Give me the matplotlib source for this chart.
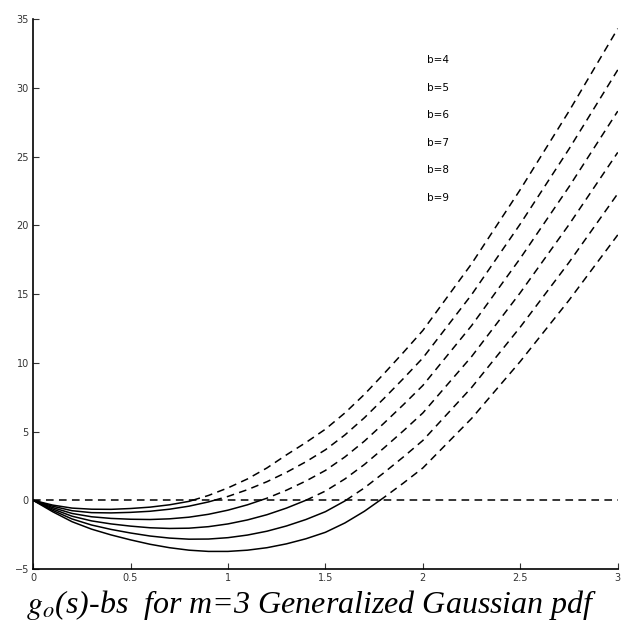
import numpy as np
import matplotlib
matplotlib.use("Agg")
import matplotlib.pyplot as plt

# s values and g_o(s)-bs curves
s = [0, 0.1, 0.2, 0.3, 0.4, 0.5, 0.6, 0.7, 0.8, 0.9, 1.0, 1.1, 1.2, 1.3, 1.4,
     1.5, 1.6, 1.7, 1.8, 1.9, 2.0, 2.25, 2.5, 2.75, 3.0]

b4 = [0, -0.35, -0.57, -0.65, -0.66, -0.6, -0.5, -0.33, -0.08, 0.35, 0.9, 1.55,
      2.35, 3.3, 4.2, 5.17, 6.35, 7.7, 9.2, 10.75, 12.35, 17.2, 22.6, 28.3, 34.3]
b5 = [0, -0.43, -0.76, -0.9, -0.92, -0.88, -0.8, -0.65, -0.43, -0.12, 0.28, 0.77,
      1.35, 2.03, 2.8, 3.67, 4.75, 6.0, 7.4, 8.85, 10.35, 14.95, 20.1, 25.55, 31.3]
b6 = [0, -0.53, -0.96, -1.2, -1.32, -1.38, -1.4, -1.35, -1.23, -1.02, -0.72, -0.33,
      0.15, 0.73, 1.4, 2.17, 3.15, 4.3, 5.6, 6.95, 8.35, 12.7, 17.6, 22.8, 28.3]
b7 = [0, -0.63, -1.16, -1.5, -1.72, -1.88, -2.0, -2.05, -2.03, -1.92, -1.72, -1.43,
      -1.05, -0.57, 0.0, 0.67, 1.55, 2.6, 3.8, 5.05, 6.35, 10.45, 15.1, 20.05, 25.3]
b8 = [0, -0.73, -1.36, -1.8, -2.12, -2.38, -2.6, -2.75, -2.83, -2.82, -2.72, -2.53,
      -2.25, -1.87, -1.4, -0.83, -0.05, 0.9, 2.0, 3.15, 4.35, 8.2, 12.6, 17.3, 22.3]
b9 = [0, -0.83, -1.56, -2.1, -2.52, -2.88, -3.2, -3.45, -3.63, -3.72, -3.72, -3.63,
      -3.45, -3.17, -2.8, -2.33, -1.65, -0.8, 0.2, 1.25, 2.35, 5.95, 10.1, 14.55, 19.3]

curves = [b4, b5, b6, b7, b8, b9]
labels = ["b=4", "b=5", "b=6", "b=7", "b=8", "b=9"]
label_y = [32, 30, 28, 26, 24, 22]

fig = plt.figure(figsize=(6.24, 6.34), dpi=100)
ax = fig.add_axes([0.053, 0.1025, 0.937, 0.8675])

sa = np.array(s)
for c in curves:
    y = np.array(c, dtype=float)
    i = np.argmax(y[1:] > 0) + 1
    s0 = sa[i - 1] + (0 - y[i - 1]) * (sa[i] - sa[i - 1]) / (y[i] - y[i - 1])
    ax.plot(np.r_[sa[:i], s0], np.r_[y[:i], 0], color="black", lw=1.1)
    ax.plot(np.r_[s0, sa[i:]], np.r_[0, y[i:]], color="black", lw=1.1,
            dashes=(5, 3.5))

ax.plot([0, 3], [0, 0], color="black", lw=1.1, dashes=(5, 3.5))

for lab, ly in zip(labels, label_y):
    ax.text(2.02, ly, lab, fontsize=7.5, va="center", ha="left", color="black")

ax.set_xlim(0, 3)
ax.set_ylim(-5, 35)
ax.set_xticks([0, 0.5, 1, 1.5, 2, 2.5, 3])
ax.set_xticklabels(["0", "0.5", "1", "1.5", "2", "2.5", "3"])
ax.set_yticks(range(-5, 36, 5))
ax.tick_params(direction="in", length=4, labelsize=7, pad=3, color="#333333",
               labelcolor="#333333")
ax.spines["top"].set_visible(False)
ax.spines["right"].set_visible(False)
for sp in ("left", "bottom"):
    ax.spines[sp].set_linewidth(1.2)

plt.rcParams["mathtext.fontset"] = "stix"
fig.text(0.5, 0.046, r"$g_o$(s)-bs  for m=3 Generalized Gaussian pdf",
         family="Liberation Serif", style="italic", fontsize=23,
         ha="center", va="center")

fig.savefig("out.png", dpi=100)
